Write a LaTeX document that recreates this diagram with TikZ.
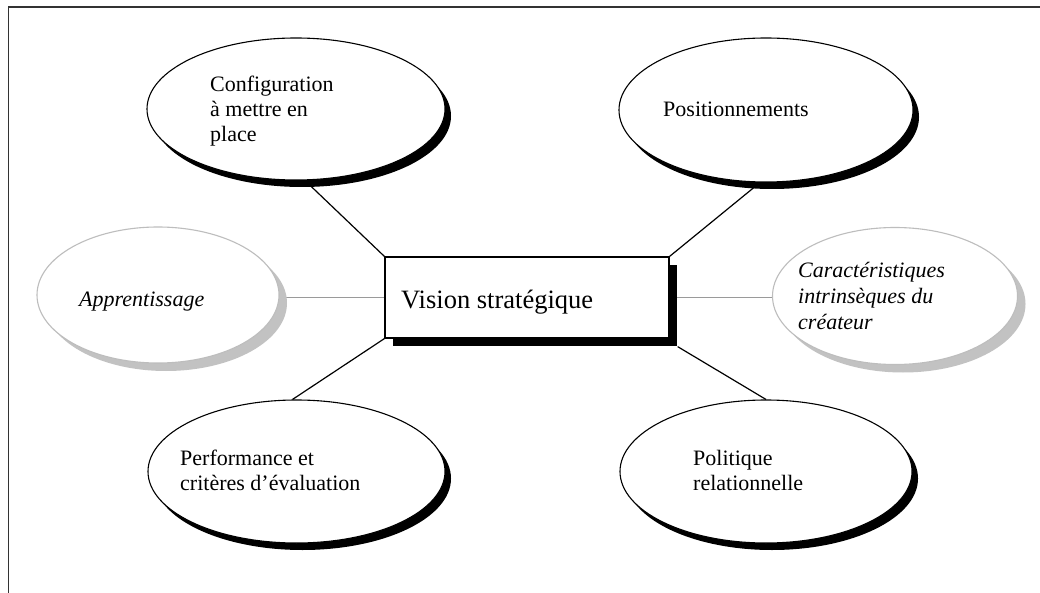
\documentclass[tikz,border=0pt]{standalone}
\usepackage{fontspec}
\setmainfont{Liberation Serif}
\usetikzlibrary{shapes.geometric,shadows,backgrounds}
\definecolor{lightgrey}{HTML}{BDBDBD}
\definecolor{shadowgrey}{HTML}{C2C2C2}
\definecolor{linkgrey}{HTML}{9A9A9A}
\definecolor{framecol}{HTML}{333333}
\begin{document}
\begin{tikzpicture}[x=1pt,y=-1pt,
  bubble/.style={ellipse, draw=black, line width=1.1pt, fill=white, inner sep=0pt,
     drop shadow={shadow xshift=6pt,shadow yshift=-7pt,fill=black,opacity=1}},
  greybubble/.style={ellipse, draw=lightgrey, line width=1.1pt, fill=white, inner sep=0pt,
     drop shadow={shadow xshift=8pt,shadow yshift=-8pt,fill=shadowgrey,opacity=1}},
  visbox/.style={draw=black, fill=white, line width=1.2pt, inner sep=0pt,
     drop shadow={shadow xshift=8pt,shadow yshift=-8pt,fill=black,opacity=1}},
  txt/.style={anchor=base west, inner sep=0pt, font=\fontsize{22}{25}\selectfont},
  itxt/.style={anchor=base west, inner sep=0pt, font=\fontsize{22}{26}\selectfont\itshape},
  bigtxt/.style={anchor=base west, inner sep=0pt, font=\fontsize{26.5}{30}\selectfont},
  link/.style={draw=black, line width=1.2pt},
  glink/.style={draw=linkgrey, line width=1.2pt}]
\useasboundingbox (0,0) rectangle (1040,593);
\begin{pgfonlayer}{background}
\fill[white] (0,0) rectangle (1040,593);
\end{pgfonlayer}
\draw[framecol, line width=1.1pt] (8.5,593) -- (8.5,7) -- (1040,7);

% ellipses
\node[bubble, minimum width=298pt, minimum height=142pt] (cfg) at (296,109) {};
\node[bubble, minimum width=294pt, minimum height=144pt] (pos) at (766,110) {};
\node[greybubble, minimum width=242pt, minimum height=136pt] (appr) at (158,295) {};
\node[greybubble, minimum width=245pt, minimum height=137pt] (cara) at (895,296) {};
\node[bubble, minimum width=297pt, minimum height=143pt] (perf) at (296.5,471.5) {};
\node[bubble, minimum width=292pt, minimum height=143pt] (pol) at (766,471.5) {};

% central box
\node[visbox, minimum width=284pt, minimum height=81pt] (vis) at (527,297.5) {};
\node[bigtxt] (vist) at (401,308) {Vision stratégique};

% texts
\node[txt] (cfgt) at (210,92) {\vtop{\hbox{Configuration}\hbox{à mettre en}\hbox{place}}};
\node[txt] (post) at (663,117) {Positionnements};
\node[itxt] (apprt) at (79,306) {Apprentissage};
\node[itxt] (carat) at (798,277) {\vtop{\hbox{Caractéristiques}\hbox{intrinsèques du}\hbox{créateur}}};
\node[txt] (perft) at (180,465) {\vtop{\hbox{Performance et}\hbox{critères d’évaluation}}};
\node[txt] (polt) at (693,465) {\vtop{\hbox{Politique}\hbox{relationnelle}}};

% connectors
\begin{pgfonlayer}{background}
\draw[link] ([xshift=9pt]cfg.south) -- (vis.north west);
\draw[link] ([xshift=-6pt]pos.south) -- (vis.north east);
\draw[link] (vis.south west) -- ([xshift=-4pt]perf.north);
\draw[link] ([shift={(8pt,-8pt)}]vis.south east) -- (pol.north);
\draw[glink] (appr.east |- vis.west) -- (vis.west);
\draw[glink] (vis.east) -- (cara.west |- vis.east);
\end{pgfonlayer}
\end{tikzpicture}
\end{document}
